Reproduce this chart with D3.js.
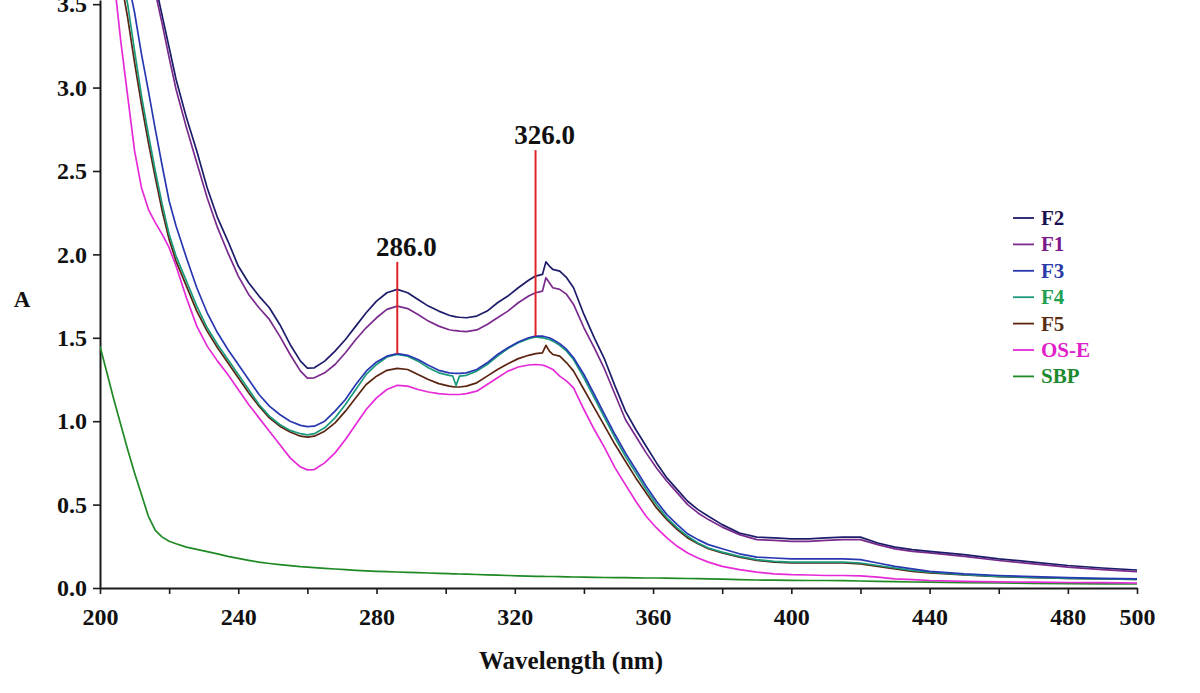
<!DOCTYPE html>
<html>
<head>
<meta charset="utf-8">
<script src="https://cdn.jsdelivr.net/npm/d3@7"></script>
<style>
  html, body { margin: 0; padding: 0; background: #ffffff; }
  svg { display: block; }
  text { font-family: "Liberation Serif", "DejaVu Serif", serif; font-weight: bold; }
</style>
</head>
<body>
<svg id="chart" width="1200" height="693"></svg>
<script>
// ---------------- DATA ----------------
const wavelengths = [
  200,202,204,206,208,210,212,214,216,218,220,222,
  225,228,231,234,237,240,243,246,249,252,255,258,
  260,262,
  265,268,271,274,277,280,283,286,289,292,295,298,301,
  302,303,304,
  306,309,312,315,318,321,324,
  326,328,329,330,331,333,335,337,
  340,343,346,349,352,355,358,361,364,367,370,373,376,
  380,385,390,395,400,405,410,415,420,425,430,435,440,
  450,460,470,480,490,500
];

const absF2 = [
  null,null,null,null,null,null,null,null,3.62,3.43,3.24,3.05,
  2.82,2.62,2.40,2.22,2.08,1.93,1.83,1.75,1.68,1.58,1.46,1.36,
  1.318,1.32,
  1.36,1.42,1.49,1.57,1.65,1.72,1.77,1.79,1.77,1.73,1.69,1.66,1.635,
  1.63,1.625,1.623,
  1.62,1.63,1.66,1.71,1.75,1.80,1.845,
  1.87,1.88,1.955,1.93,1.91,1.90,1.86,1.80,
  1.64,1.50,1.37,1.21,1.06,0.95,0.85,0.75,0.66,0.59,0.52,0.47,0.43,
  0.38,0.33,0.305,0.30,0.295,0.295,0.30,0.305,0.305,0.27,0.245,0.23,0.22,
  0.20,0.175,0.155,0.135,0.12,0.108
];

const absF1 = [
  null,null,null,null,null,null,null,3.78,3.57,3.38,3.18,2.99,
  2.76,2.55,2.34,2.16,2.01,1.87,1.76,1.68,1.61,1.51,1.40,1.30,
  1.258,1.26,
  1.29,1.34,1.41,1.49,1.56,1.62,1.67,1.69,1.675,1.64,1.60,1.57,1.548,
  1.545,1.543,1.54,
  1.537,1.547,1.58,1.62,1.66,1.71,1.75,
  1.77,1.78,1.86,1.83,1.80,1.79,1.76,1.70,
  1.56,1.44,1.31,1.16,1.01,0.91,0.81,0.72,0.64,0.57,0.50,0.45,0.41,
  0.365,0.32,0.29,0.285,0.28,0.28,0.285,0.29,0.29,0.26,0.235,0.22,0.21,
  0.19,0.165,0.145,0.125,0.11,0.098
];

const absF3 = [
  null,null,null,null,3.65,3.45,3.20,2.98,2.75,2.53,2.32,2.17,
  1.98,1.80,1.65,1.53,1.43,1.34,1.25,1.16,1.09,1.04,1.00,0.975,
  0.967,0.97,
  1.00,1.06,1.13,1.22,1.30,1.355,1.39,1.405,1.395,1.37,1.335,1.305,1.29,
  1.288,1.287,1.287,
  1.29,1.31,1.35,1.40,1.44,1.475,1.50,
  1.51,1.51,1.505,1.50,1.49,1.465,1.43,1.38,
  1.28,1.16,1.04,0.92,0.81,0.71,0.61,0.52,0.44,0.38,0.325,0.29,0.26,
  0.235,0.205,0.185,0.18,0.175,0.175,0.175,0.175,0.17,0.15,0.13,0.115,0.10,
  0.085,0.075,0.068,0.062,0.058,0.055
];

const absF4 = [
  null,null,null,3.70,3.50,3.22,2.95,2.72,2.50,2.30,2.12,1.99,
  1.84,1.69,1.56,1.46,1.37,1.28,1.19,1.10,1.03,0.98,0.945,0.925,
  0.918,0.925,
  0.96,1.02,1.10,1.19,1.28,1.34,1.385,1.40,1.39,1.36,1.32,1.29,1.275,
  1.272,1.215,1.27,
  1.275,1.30,1.34,1.39,1.435,1.47,1.495,
  1.505,1.50,1.495,1.49,1.48,1.455,1.42,1.37,
  1.26,1.14,1.02,0.90,0.79,0.69,0.59,0.50,0.42,0.36,0.31,0.27,0.24,
  0.215,0.19,0.17,0.16,0.155,0.155,0.155,0.155,0.15,0.135,0.12,0.105,0.095,
  0.08,0.07,0.063,0.058,0.055,0.052
];

const absF5 = [
  null,null,null,3.65,3.42,3.15,2.90,2.67,2.46,2.26,2.09,1.96,
  1.81,1.66,1.54,1.44,1.35,1.26,1.17,1.09,1.02,0.97,0.935,0.91,
  0.905,0.91,
  0.94,0.99,1.06,1.14,1.22,1.27,1.305,1.317,1.31,1.28,1.25,1.225,1.21,
  1.207,1.205,1.205,
  1.21,1.23,1.27,1.31,1.345,1.375,1.395,
  1.405,1.41,1.455,1.42,1.40,1.39,1.35,1.30,
  1.19,1.08,0.97,0.86,0.76,0.66,0.57,0.48,0.41,0.35,0.30,0.265,0.235,
  0.21,0.185,0.165,0.155,0.15,0.15,0.15,0.15,0.145,0.13,0.115,0.10,0.09,
  0.078,0.068,0.062,0.057,0.054,0.051
];

const absOSE = [
  null,3.90,3.66,3.28,2.95,2.62,2.40,2.27,2.19,2.12,2.04,1.93,
  1.74,1.57,1.45,1.36,1.28,1.19,1.10,1.02,0.94,0.86,0.78,0.725,
  0.708,0.71,
  0.75,0.81,0.89,0.98,1.07,1.14,1.19,1.215,1.21,1.19,1.175,1.165,1.16,
  1.16,1.16,1.16,
  1.165,1.18,1.22,1.26,1.30,1.325,1.337,
  1.34,1.337,1.33,1.32,1.31,1.27,1.24,1.20,
  1.07,0.95,0.84,0.72,0.62,0.52,0.43,0.36,0.30,0.25,0.21,0.18,0.155,
  0.13,0.11,0.095,0.085,0.08,0.078,0.075,0.075,0.073,0.065,0.055,0.05,0.045,
  0.04,0.037,0.035,0.033,0.032,0.03
];

const absSBP = [
  1.45,1.29,1.13,0.98,0.83,0.69,0.56,0.43,0.345,0.305,0.28,0.265,
  0.245,0.232,0.218,0.205,0.19,0.178,0.166,0.155,0.147,0.14,0.134,0.128,
  0.125,0.122,
  0.118,0.114,0.11,0.106,0.103,0.10,0.098,0.096,0.094,0.092,0.09,0.088,0.086,
  0.085,0.085,0.084,
  0.083,0.081,0.079,0.077,0.075,0.073,0.071,
  0.07,0.07,0.069,0.069,0.069,0.068,0.067,0.066,
  0.065,0.064,0.063,0.062,0.062,0.061,0.06,0.06,0.059,0.058,0.057,0.056,0.055,
  0.053,0.05,0.048,0.047,0.046,0.045,0.045,0.044,0.042,0.04,0.038,0.036,0.035,
  0.032,0.03,0.028,0.026,0.025,0.024
];

const seriesNames = ["F2", "F1", "F3", "F4", "F5", "OS-E", "SBP"];
const seriesValues = [absF2, absF1, absF3, absF4, absF5, absOSE, absSBP];
const lineColors = ["#1c1c6a", "#7a2a8c", "#2838b0", "#1a9a7c", "#5a2410", "#e62ad8", "#1f8a24"];
const textColors = ["#1a1250", "#7a1a8a", "#2a3aa8", "#22a050", "#5a2e14", "#e020c8", "#1e8a2e"];

const peakWavelengths = [286, 326];
const peakLabels = ["286.0", "326.0"];
const peakMarkerTop = [1.955, 2.625];
const peakMarkerBottomSeries = absF3;

const yTicks = [0, 0.5, 1.0, 1.5, 2.0, 2.5, 3.0, 3.5];
const xTickMarks = d3.range(200, 501, 20);
const xTickLabels = [200, 240, 280, 320, 360, 400, 440, 480, 500];

// ---------------- CHART ----------------
const svg = d3.select("#chart");
const x = d3.scaleLinear().domain([200, 500]).range([100, 1137]);
const y = d3.scaleLinear().domain([0, 3.525]).range([588, 0]);

svg.append("defs").append("clipPath").attr("id", "plotclip")
  .append("rect")
  .attr("x", x(200)).attr("y", y(3.525))
  .attr("width", x(500) - x(200)).attr("height", y(0) - y(3.525));

// Axes
const xAxis = d3.axisBottom(x)
  .tickValues(xTickMarks)
  .tickSize(6)
  .tickSizeOuter(0)
  .tickPadding(14)
  .tickFormat(d => xTickLabels.includes(d) ? String(d) : "");
const gx = svg.append("g").attr("transform", `translate(0,${y(0)})`).call(xAxis);
gx.select(".domain").attr("stroke", "#1a1a1a").attr("stroke-width", 2);
gx.selectAll(".tick line").attr("stroke", "#1a1a1a").attr("stroke-width", 1.6);
gx.selectAll(".tick text")
  .attr("font-size", 24).attr("fill", "#111")
  .attr("font-family", "Liberation Serif, serif").attr("font-weight", "bold");

const yAxis = d3.axisLeft(y)
  .tickValues(yTicks)
  .tickSize(7)
  .tickSizeOuter(0)
  .tickPadding(6)
  .tickFormat(d3.format(".1f"));
const gy = svg.append("g").attr("transform", `translate(${x(200)},0)`).call(yAxis);
gy.select(".domain").attr("stroke", "#1a1a1a").attr("stroke-width", 2);
gy.selectAll(".tick line").attr("stroke", "#1a1a1a").attr("stroke-width", 1.6);
gy.selectAll(".tick text")
  .attr("font-size", 24).attr("fill", "#111")
  .attr("font-family", "Liberation Serif, serif").attr("font-weight", "bold");

// Axis titles
svg.append("text")
  .attr("x", 571)
  .attr("y", 669)
  .attr("text-anchor", "middle")
  .attr("font-size", 25).attr("fill", "#111")
  .text("Wavelength (nm)");

svg.append("text")
  .attr("x", 22)
  .attr("y", y(1.73))
  .attr("text-anchor", "middle")
  .attr("dominant-baseline", "central")
  .attr("font-size", 23).attr("fill", "#111")
  .text("A");

// Series
const line = d3.line()
  .defined(d => d[1] !== null)
  .x(d => x(d[0]))
  .y(d => y(d[1]))
  .curve(d3.curveLinear);

const plot = svg.append("g").attr("clip-path", "url(#plotclip)");
for (let i = seriesNames.length - 1; i >= 0; i--) {
  const pts = wavelengths.map((w, k) => [w, seriesValues[i][k]]);
  plot.append("path")
    .datum(pts)
    .attr("fill", "none")
    .attr("stroke", lineColors[i])
    .attr("stroke-width", 1.7)
    .attr("stroke-linejoin", "round")
    .attr("d", line);
}

// Peak markers
peakWavelengths.forEach((w, i) => {
  const k = wavelengths.indexOf(w);
  const bottom = peakMarkerBottomSeries[k];
  svg.append("line")
    .attr("x1", x(w)).attr("x2", x(w))
    .attr("y1", y(peakMarkerTop[i])).attr("y2", y(bottom))
    .attr("stroke", "#e0242a").attr("stroke-width", 2);
  svg.append("text")
    .attr("x", x(w) + 9)
    .attr("y", y(peakMarkerTop[i]) - 6)
    .attr("text-anchor", "middle")
    .attr("font-size", 27).attr("fill", "#111")
    .text(peakLabels[i]);
});

// Legend
const legend = svg.append("g").attr("transform", "translate(1013,218)");
seriesNames.forEach((name, i) => {
  const g = legend.append("g").attr("transform", `translate(0,${i * 26.4})`);
  g.append("line").attr("x1", 0).attr("x2", 21).attr("y1", 0).attr("y2", 0)
    .attr("stroke", lineColors[i]).attr("stroke-width", 1.8);
  g.append("text").attr("x", 28).attr("y", 0)
    .attr("dominant-baseline", "central")
    .attr("font-size", 21).attr("fill", textColors[i])
    .text(name);
});
</script>
</body>
</html>
